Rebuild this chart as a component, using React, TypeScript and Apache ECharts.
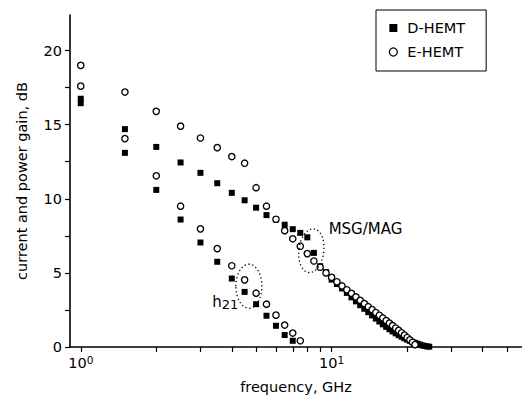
import React, { useEffect, useRef } from "react";
import * as echarts from "echarts";

// ---- data ----
const freqMsgD = [1, 1.5, 2, 2.5, 3, 3.5, 4, 4.5, 5, 5.5, 6, 6.5, 7, 7.5, 8, 8.5, 9, 9.5, 10, 10.5, 11, 11.5, 12, 12.5, 13, 13.5, 14, 14.5, 15, 15.5, 16, 16.5, 17, 17.5, 18, 18.5, 19, 19.5, 20, 20.5, 21, 21.5, 22, 22.5, 23, 23.5, 24, 24.5];
const msgD = [16.75, 14.7, 13.5, 12.45, 11.75, 11.05, 10.4, 9.9, 9.4, 8.9, 8.6, 8.25, 7.95, 7.7, 7.4, 6.35, 5.45, 5.05, 4.55, 4.25, 3.95, 3.65, 3.35, 3.08, 2.82, 2.58, 2.35, 2.13, 1.92, 1.72, 1.53, 1.36, 1.2, 1.05, 0.92, 0.8, 0.69, 0.59, 0.5, 0.42, 0.35, 0.28, 0.22, 0.16, 0.11, 0.07, 0.04, 0.02];

const freqMsgE = [1, 1.5, 2, 2.5, 3, 3.5, 4, 4.5, 5, 5.5, 6, 6.5, 7, 7.5, 8, 8.5, 9, 9.5, 10, 10.5, 11, 11.5, 12, 12.5, 13, 13.5, 14, 14.5, 15, 15.5, 16, 16.5, 17, 17.5, 18, 18.5, 19, 19.5, 20, 20.5, 21, 21.5];
const msgE = [19.0, 17.2, 15.9, 14.9, 14.1, 13.45, 12.85, 12.4, 10.75, 9.5, 8.62, 7.85, 7.3, 6.8, 6.3, 5.8, 5.38, 5.0, 4.7, 4.4, 4.12, 3.86, 3.62, 3.38, 3.15, 2.93, 2.72, 2.52, 2.33, 2.14, 1.96, 1.78, 1.61, 1.44, 1.28, 1.12, 0.96, 0.8, 0.64, 0.48, 0.32, 0.16];

const freqH21D = [1, 1.5, 2, 2.5, 3, 3.5, 4, 4.5, 5, 5.5, 6, 6.5, 7];
const h21D = [16.45, 13.1, 10.6, 8.6, 7.05, 5.75, 4.62, 3.72, 2.89, 2.11, 1.43, 0.81, 0.42];

const freqH21E = [1, 1.5, 2, 2.5, 3, 3.5, 4, 4.5, 5, 5.5, 6, 6.5, 7, 7.5];
const h21E = [17.6, 14.06, 11.55, 9.5, 7.97, 6.64, 5.48, 4.53, 3.63, 2.89, 2.15, 1.48, 0.94, 0.42];

const seriesNames = ["D-HEMT", "E-HEMT"];
const xTickValues = [1, 2, 3, 4, 5, 6, 7, 8, 9, 10, 20, 30, 40, 50];
const xLabelValues = [1, 10];
const yTickValues = [0, 2.5, 5, 7.5, 10, 12.5, 15, 17.5, 20];
const yLabelValues = [0, 5, 10, 15, 20];

// annotation anchors (data coordinates)
const ellipseCenters = [
  [4.68, 4.1],
  [8.3, 6.5],
];
const textAnchors = [
  [9.73, 7.94],
  [3.34, 3.03],
];
const textLabels = ["MSG/MAG", "{h|h}{s|21}"];

const FONT = "DejaVu Sans";
const zip = (xs: number[], ys: number[]) => xs.map((x, i) => [x, ys[i]]);

export default function App() {
  const ref = useRef<HTMLDivElement>(null);
  useEffect(() => {
    if (!ref.current) return;
    const chart = echarts.init(ref.current, undefined, { renderer: "svg" });
    const ellipseSizes = [
      { rx: 13, ry: 22, rot: 0 },
      { rx: 12.5, ry: 22, rot: -0.12 },
    ];
    const squareStyle = { color: "#000", opacity: 1 };
    const circleStyle = { color: "#fff", borderColor: "#000", borderWidth: 1.3, opacity: 1 };
    chart.setOption({
      animation: false,
      textStyle: { fontFamily: FONT, color: "#000" },
      grid: { left: 70, right: 0, top: 15, bottom: 51, containLabel: false },
      legend: {
        data: [
          { name: seriesNames[0], icon: "rect", itemStyle: { color: "#000", borderWidth: 0 } },
          { name: seriesNames[1], icon: "circle", itemStyle: { color: "#fff", borderColor: "#000", borderWidth: 1.3 } },
        ],
        orient: "vertical",
        left: 376,
        top: 10,
        itemWidth: 8,
        itemHeight: 8,
        itemGap: 6,
        padding: [9, 21, 10, 12.7],
        borderColor: "#000",
        borderWidth: 1,
        textStyle: { fontFamily: FONT, fontSize: 14.5, color: "#000", lineHeight: 18, padding: [0, 0, 0, 5] },
      },
      xAxis: {
        type: "log",
        logBase: 10,
        min: 0.906,
        max: 57.4,
        name: "frequency, GHz",
        nameLocation: "middle",
        nameGap: 32,
        nameTextStyle: { fontFamily: FONT, fontSize: 14.5, color: "#000" },
        axisLine: { show: true, lineStyle: { color: "#000", width: 1.6 } },
        axisTick: {
          show: true,
          inside: false,
          length: 5,
          customValues: xTickValues,
          lineStyle: { color: "#000", width: 1.2 },
        },
        axisLabel: {
          customValues: xLabelValues,
          margin: 7,
          color: "#000",
          formatter: (v: number) => `{b|10}{s|${Math.round(Math.log10(v))}}`,
          rich: {
            b: { fontFamily: FONT, fontSize: 14.5, color: "#000", lineHeight: 18 },
            s: { fontFamily: FONT, fontSize: 10.5, color: "#000", lineHeight: 12, verticalAlign: "top" },
          },
        },
        splitLine: { show: false },
        minorTick: { show: false },
      },
      yAxis: {
        type: "value",
        min: 0,
        max: 22.4,
        name: "current and power gain, dB",
        nameLocation: "middle",
        nameGap: 41,
        nameTextStyle: { fontFamily: FONT, fontSize: 14.5, color: "#000" },
        axisLine: { show: true, lineStyle: { color: "#000", width: 1.6 } },
        axisTick: {
          show: true,
          length: 5,
          customValues: yTickValues,
          lineStyle: { color: "#000", width: 1.2 },
        },
        axisLabel: {
          customValues: yLabelValues,
          margin: 8,
          fontFamily: FONT,
          fontSize: 14.5,
          color: "#000",
        },
        splitLine: { show: false },
      },
      series: [
        {
          name: seriesNames[0],
          type: "scatter",
          symbol: "rect",
          symbolSize: 6,
          itemStyle: squareStyle,
          data: zip(freqMsgD, msgD),
          z: 2,
        },
        {
          name: seriesNames[0],
          type: "scatter",
          symbol: "rect",
          symbolSize: 6,
          itemStyle: squareStyle,
          data: zip(freqH21D, h21D),
          z: 2,
        },
        {
          name: seriesNames[1],
          type: "scatter",
          symbol: "circle",
          symbolSize: 6.3,
          itemStyle: circleStyle,
          data: zip(freqMsgE, msgE),
          z: 3,
        },
        {
          name: seriesNames[1],
          type: "scatter",
          symbol: "circle",
          symbolSize: 6.3,
          itemStyle: circleStyle,
          data: zip(freqH21E, h21E),
          z: 3,
        },
        {
          type: "custom",
          name: "ellipses",
          data: ellipseCenters,
          z: 4,
          silent: true,
          renderItem: (params: any, api: any) => {
            const p = api.coord([api.value(0), api.value(1)]);
            const s = ellipseSizes[params.dataIndex];
            return {
              type: "ellipse",
              x: p[0],
              y: p[1],
              rotation: s.rot,
              shape: { cx: 0, cy: 0, rx: s.rx, ry: s.ry },
              style: { fill: "none", stroke: "#000", lineWidth: 1.3, lineDash: [1.3, 2.6] },
            };
          },
        },
        {
          type: "custom",
          name: "labels",
          data: textAnchors,
          z: 5,
          silent: true,
          renderItem: (params: any, api: any) => {
            const p = api.coord([api.value(0), api.value(1)]);
            return {
              type: "text",
              x: p[0],
              y: p[1],
              style: {
                text: textLabels[params.dataIndex],
                fontFamily: FONT,
                fontSize: 15,
                fill: "#000",
                verticalAlign: "middle",
                align: "left",
                rich: {
                  h: { fontFamily: FONT, fontSize: 15, fill: "#000", lineHeight: 18 },
                  s: { fontFamily: FONT, fontSize: 13, fill: "#000", lineHeight: 10, verticalAlign: "bottom" },
                },
              },
            };
          },
        },
      ],
    });
    return () => chart.dispose();
  }, []);
  return (
    <div
      ref={ref}
      style={{ position: "fixed", left: 0, top: 0, width: 522, height: 399, background: "#fff" }}
    />
  );
}
